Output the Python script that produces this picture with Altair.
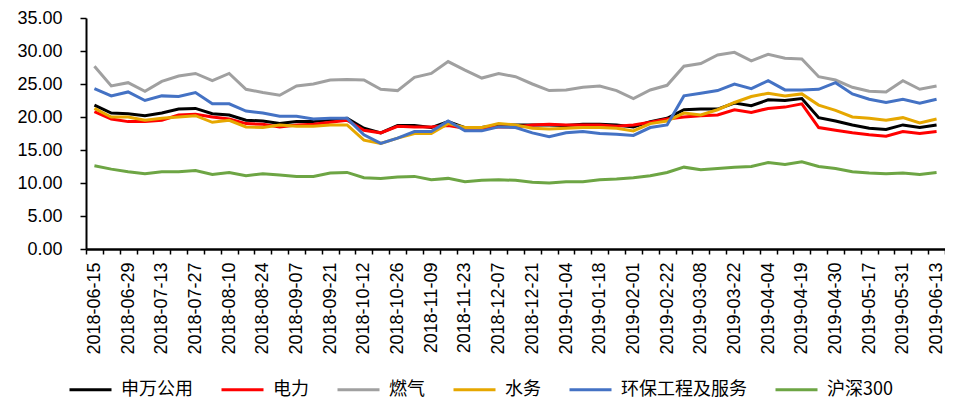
import json
import altair as alt
import pandas as pd

dates = ["2018-06-15","2018-06-22","2018-06-29","2018-07-06","2018-07-13","2018-07-20","2018-07-27",
         "2018-08-03","2018-08-10","2018-08-17","2018-08-24","2018-08-31","2018-09-07","2018-09-14",
         "2018-09-21","2018-09-28","2018-10-12","2018-10-19","2018-10-26","2018-11-02","2018-11-09",
         "2018-11-16","2018-11-23","2018-11-30","2018-12-07","2018-12-14","2018-12-21","2018-12-28",
         "2019-01-04","2019-01-11","2019-01-18","2019-01-25","2019-02-01","2019-02-15","2019-02-22",
         "2019-03-01","2019-03-08","2019-03-15","2019-03-22","2019-03-29","2019-04-04","2019-04-12",
         "2019-04-19","2019-04-26","2019-04-30","2019-05-10","2019-05-17","2019-05-24","2019-05-31",
         "2019-06-06","2019-06-13"]
labeled_dates = dates[::2]

sw_utility = [21.8,20.6,20.5,20.2,20.6,21.2,21.3,20.5,20.3,19.5,19.4,19.0,19.3,19.3,19.6,19.8,18.3,17.6,18.7,18.7,
              18.4,19.3,18.4,18.4,18.8,18.8,18.8,18.8,18.7,18.9,18.9,18.8,18.5,19.3,19.8,21.1,21.2,21.2,22.1,21.7,
              22.6,22.5,22.8,19.9,19.4,18.8,18.3,18.1,18.8,18.4,18.8]
power = [20.8,19.7,19.3,19.3,19.5,20.3,20.4,20.0,19.7,19.0,18.9,18.5,18.8,18.9,19.2,19.5,18.0,17.6,18.6,18.5,
         18.5,18.7,18.3,18.3,18.5,18.5,18.8,18.9,18.8,18.8,18.8,18.6,18.8,19.2,19.7,20.0,20.2,20.3,21.1,20.7,
         21.3,21.5,22.0,18.4,18.0,17.6,17.3,17.1,17.8,17.5,17.8]
gas = [27.7,24.7,25.2,23.9,25.4,26.2,26.6,25.5,26.6,24.2,23.7,23.3,24.7,25.0,25.6,25.7,25.6,24.2,24.0,26.0,
       26.6,28.4,27.1,25.9,26.6,26.1,25.0,24.0,24.1,24.5,24.7,24.0,22.8,24.1,24.8,27.7,28.1,29.4,29.8,28.5,
       29.5,28.9,28.8,26.1,25.6,24.5,23.9,23.8,25.5,24.2,24.7]
water = [21.3,20.0,20.0,19.5,19.8,20.0,20.2,19.2,19.5,18.5,18.4,18.8,18.6,18.6,18.8,18.8,16.5,16.0,16.8,17.5,
         17.5,19.0,18.4,18.4,19.0,18.8,18.3,18.2,18.3,18.4,18.4,18.3,17.9,19.0,19.4,20.6,20.3,21.1,22.2,23.1,
         23.6,23.2,23.5,21.8,21.0,20.0,19.8,19.5,19.9,19.1,19.7]
env = [24.3,23.2,23.8,22.5,23.2,23.1,23.7,22.0,22.0,20.9,20.6,20.1,20.1,19.7,19.8,19.8,17.3,16.0,16.8,17.8,
       17.8,19.4,17.9,17.9,18.5,18.4,17.6,17.0,17.6,17.8,17.5,17.4,17.2,18.4,18.8,23.2,23.6,24.0,25.0,24.3,
       25.5,24.1,24.1,24.2,25.2,23.5,22.7,22.2,22.7,22.1,22.7]
hs300 = [12.6,12.1,11.7,11.4,11.7,11.7,11.9,11.3,11.6,11.1,11.4,11.2,11.0,11.0,11.5,11.6,10.8,10.7,10.9,11.0,
         10.5,10.7,10.2,10.4,10.5,10.4,10.1,10.0,10.2,10.2,10.5,10.6,10.8,11.1,11.6,12.4,12.0,12.2,12.4,12.5,
         13.1,12.8,13.2,12.5,12.2,11.7,11.5,11.4,11.5,11.3,11.6]

series_names = ["申万公用", "电力", "燃气", "水务", "环保工程及服务", "沪深300"]
series_values = [sw_utility, power, gas, water, env, hs300]
colors = ["#000000", "#FF0000", "#A0A0A0", "#E6A700", "#4472C4", "#6DA544"]
y_ticks = [0, 5, 10, 15, 20, 25, 30, 35]

rows = []
for name, vals in zip(series_names, series_values):
    for d, v in zip(dates, vals):
        rows.append({"date": d, "series": name, "value": v})
df = pd.DataFrame(rows)

label_expr = "indexof(" + json.dumps(labeled_dates) + ", datum.value) >= 0 ? datum.label : ''"

chart = alt.Chart(df).mark_line(strokeWidth=3).encode(
    x=alt.X("date:O", sort=dates, bandPosition=0.5,
            scale=alt.Scale(type="band", paddingInner=0, paddingOuter=0),
            axis=alt.Axis(title=None, labelAngle=270, labelExpr=label_expr, labelOverlap=False,
                          tickBand="extent", ticks=True, tickSize=5, tickWidth=1.5, tickColor="black",
                          labelPadding=8, labelFontSize=18, labelFont="Liberation Sans", labelColor="black",
                          domainColor="black", domainWidth=2.5, grid=False)),
    y=alt.Y("value:Q", scale=alt.Scale(domain=[0, 35], nice=False, zero=True),
            axis=alt.Axis(title=None, values=y_ticks, format=".2f", grid=False,
                          tickSize=6, tickWidth=1.5, tickColor="black", labelPadding=18,
                          labelFontSize=18, labelFont="Liberation Sans", labelColor="black",
                          domainColor="black", domainWidth=2)),
    color=alt.Color("series:N", sort=series_names,
                    scale=alt.Scale(domain=series_names, range=colors),
                    legend=alt.Legend(title=None, orient="none", legendX=-18, legendY=349,
                                      direction="horizontal", columns=6, symbolType="stroke",
                                      symbolSize=1764, symbolStrokeWidth=3, labelFont="Noto Sans CJK SC",
                                      labelFontSize=18, labelOffset=8, columnPadding=22, padding=0,
                                      labelColor="black", labelLimit=300)),
).properties(
    width=859, height=231,
    autosize=alt.AutoSizeParams(type="none"),
    padding={"left": 78, "top": 10, "right": 0, "bottom": 156},
    background="white",
).configure_view(stroke=None)

chart.save("out.html", embed_options={"renderer": "svg", "actions": False})
